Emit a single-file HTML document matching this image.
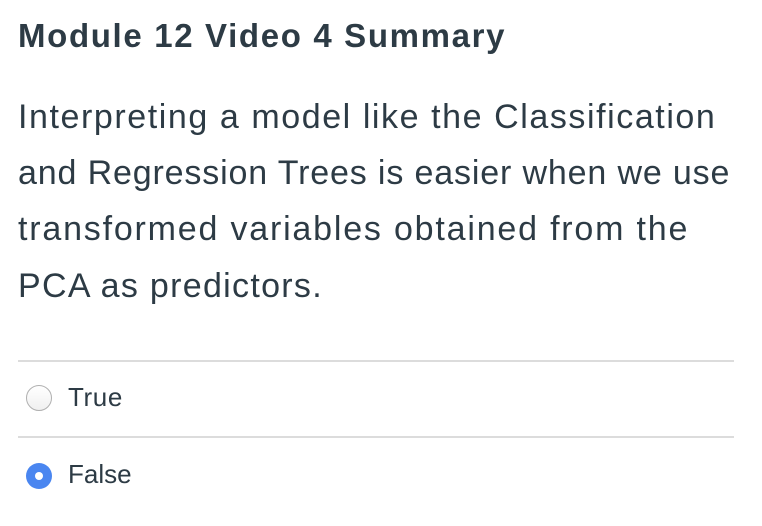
<!DOCTYPE html>
<html><head><meta charset="utf-8"><style>
body{margin:0;width:762px;height:526px;background:#fff;font-family:"Liberation Sans",sans-serif;color:#2d3b45;position:relative;overflow:hidden}
.abs{position:absolute;white-space:nowrap}
#title{left:18px;top:17px;font-size:33px;font-weight:bold;letter-spacing:1.65px;color:#2d3b45}
.ln{left:18px;font-size:34px;letter-spacing:1.5px;color:#2d3b45}
.hr{position:absolute;left:18px;width:716px;height:2px;background:#dcdcdc}
.radio{position:absolute;width:26px;height:26px;border-radius:50%;box-sizing:border-box}
.opt{font-size:26px;left:68px;color:#2d3b45;letter-spacing:0.6px}
</style></head><body>
<div id="title" class="abs">Module 12 Video 4 Summary</div>
<div>
<div class="abs ln" style="top:98px;letter-spacing:1.57px">Interpreting a model like the Classification</div>
<div class="abs ln" style="top:154px;letter-spacing:0.85px">and Regression Trees is easier when we use</div>
<div class="abs ln" style="top:210px;letter-spacing:1.8px">transformed variables obtained from the</div>
<div class="abs ln" style="top:267px;letter-spacing:1.3px">PCA as predictors.</div>
</div>
<div class="hr" style="top:360px"></div>
<div class="radio" style="left:26px;top:385px;border:1.5px solid #b0b0b0;background:linear-gradient(#fff,#f0f0f0)"></div>
<div class="abs opt" style="top:382px">True</div>
<div class="hr" style="top:436px"></div>
<div class="radio" style="left:26px;top:463px;background:#4a86f0"><div style="position:absolute;left:9px;top:9px;width:8px;height:8px;border-radius:50%;background:#fff"></div></div>
<div class="abs opt" style="top:459px;letter-spacing:0">False</div>
</body></html>
